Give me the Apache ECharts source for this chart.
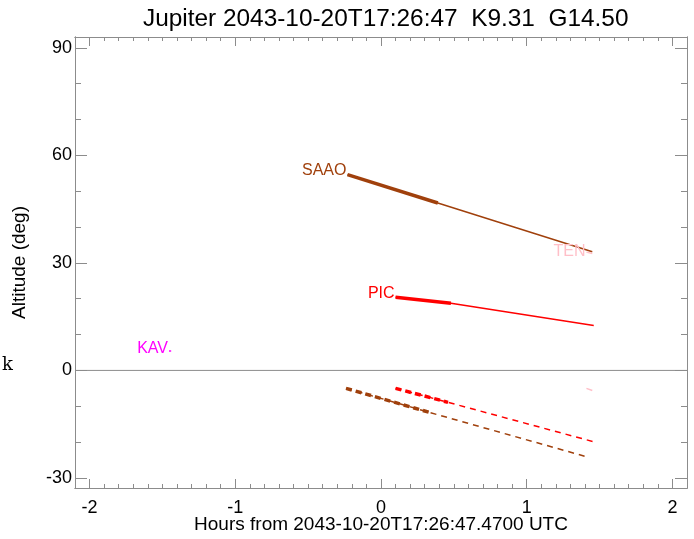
<!DOCTYPE html>
<html><head><meta charset="utf-8">
<script src="https://cdn.jsdelivr.net/npm/echarts@6/dist/echarts.min.js"></script>
<style>html,body{margin:0;padding:0;background:#fff}#c{width:694px;height:539px}</style>
</head><body><div id="c"></div>
<script>
// Tick labels
const xTicks = [-2, -1, 0, 1, 2];
const yTicks = [-30, 0, 30, 60, 90];
// Tracks (hours from reference time, altitude deg); first two points = thick part
const saaoHours = [-0.23, 0.39, 1.45];
const saaoAlt   = [54.6, 46.7, 33.1];
const picHours  = [0.10, 0.48, 1.46];
const picAlt    = [20.4, 18.75, 12.5];
const saaoLowHours = [-0.24, 0.34, 1.43];
const saaoLowAlt   = [-5.0, -11.8, -24.3];
const picLowHours  = [0.10, 0.46, 1.46];
const picLowAlt    = [-5.0, -8.9, -19.9];
const tenHours = [1.41, 1.45];
const tenAlt   = [33.0, 32.6];
const tenLowHours = [1.41, 1.45];
const tenLowAlt   = [-5.0, -5.6];
const kavHours = [-1.455, -1.44];
const kavAlt   = [5.4, 5.4];

const FONT = '"Liberation Sans", Arial, sans-serif';
const GREY = '#8c8c8c';
const C_SAAO = '#a0400c', C_PIC = '#ff0000', C_TEN = '#ffbfc8', C_KAV = '#ff00ff';

function minorList(lo, hi, step, majors) {
  const out = [];
  for (let v = lo; v <= hi + 1e-9; v += step) {
    const r = Math.round(v * 10) / 10;
    if (!majors.some(m => Math.abs(m - r) < 1e-6)) out.push(r);
  }
  return out;
}
const xMinor = minorList(-2.0, 2.0, 0.1, xTicks);
const yMinor = minorList(-30, 90, 10, yTicks);

function pts(h, a, from, to) {
  const out = [];
  for (let i = from; i <= to; i++) out.push([h[i], a[i]]);
  return out;
}
function thin(h, a, color, dashed) {
  return { type: 'line', data: pts(h, a, 0, h.length - 1), showSymbol: false, silent: true,
    lineStyle: { color: color, width: 1.5, type: dashed ? [6, 5] : 'solid' }, z: 3 };
}
function thick(h, a, color, dashed) {
  return { type: 'line', data: pts(h, a, 0, 1), showSymbol: false, silent: true,
    lineStyle: { color: color, width: 3.5, type: dashed ? [6, 4] : 'solid' }, z: 4 };
}
function lbl(text, h, a, color, dy) {
  return { type: 'scatter', symbolSize: 0, silent: true, data: [[h[0], a[0]]],
    itemStyle: { opacity: 1, color: color },
    label: { show: true, formatter: text, position: 'left', distance: 1, offset: [0, dy],
      color: color, fontSize: 16, fontFamily: FONT, opacity: 1 }, z: 5 };
}

const axisLine = { show: true, onZero: false, lineStyle: { color: GREY, width: 1 } };
function xAx(pos, major, labels) {
  return { type: 'value', position: pos, min: -2.1, max: 2.1,
    axisLine: axisLine, splitLine: { show: false },
    axisTick: { show: true, inside: true, length: major ? 9 : 4, customValues: major ? xTicks : xMinor,
      lineStyle: { color: GREY } },
    axisLabel: labels ? { show: true, customValues: xTicks, fontSize: 18, color: '#000', margin: 11, fontFamily: FONT } : { show: false },
    name: labels ? 'Hours from 2043-10-20T17:26:47.4700 UTC' : '',
    nameLocation: 'middle', nameGap: 27, nameMoveOverlap: false,
    nameTextStyle: { fontSize: 19, color: '#000', fontFamily: FONT, verticalAlign: 'top' } };
}
function yAx(pos, major, labels) {
  return { type: 'value', position: pos, min: -32.8, max: 93,
    axisLine: axisLine, splitLine: { show: false },
    axisTick: { show: true, inside: true, length: major ? 12 : 6, customValues: major ? yTicks : yMinor,
      lineStyle: { color: GREY } },
    axisLabel: labels ? { show: true, customValues: yTicks, fontSize: 18, color: '#000', margin: 3, fontFamily: FONT } : { show: false },
    name: labels ? 'Altitude (deg)' : '',
    nameLocation: 'middle', nameGap: 46, nameRotate: 90, nameMoveOverlap: false,
    nameTextStyle: { fontSize: 19, color: '#000', fontFamily: FONT } };
}

const chart = echarts.init(document.getElementById('c'), null, { renderer: 'canvas' });
chart.setOption({
  animation: false,
  backgroundColor: '#fff',
  title: { text: 'Jupiter 2043-10-20T17:26:47  K9.31  G14.50', left: 138, top: 2,
    textStyle: { fontSize: 24.4, fontWeight: 'normal', color: '#000', fontFamily: FONT } },
  grid: { left: 75, right: 7, top: 37, bottom: 51, containLabel: false, outerBoundsMode: 'none' },
  xAxis: [xAx('bottom', true, true), xAx('bottom', false, false), xAx('top', true, false), xAx('top', false, false)],
  yAxis: [yAx('left', true, true), yAx('left', false, false), yAx('right', true, false), yAx('right', false, false)],
  graphic: [{ type: 'text', left: 2, top: 356, style: { text: 'k', fontSize: 18, fontFamily: '"DejaVu Serif", serif', fill: '#000' } }],
  series: [
    { type: 'line', data: [[-2.1, 0], [2.1, 0]], showSymbol: false, silent: true, lineStyle: { color: GREY, width: 1 }, z: 2 },
    thin(saaoHours, saaoAlt, C_SAAO, false), thick(saaoHours, saaoAlt, C_SAAO, false),
    thin(picHours, picAlt, C_PIC, false), thick(picHours, picAlt, C_PIC, false),
    thin(saaoLowHours, saaoLowAlt, C_SAAO, true), thick(saaoLowHours, saaoLowAlt, C_SAAO, true),
    thin(picLowHours, picLowAlt, C_PIC, true), thick(picLowHours, picLowAlt, C_PIC, true),
    thin(tenHours, tenAlt, C_TEN, false), thin(tenLowHours, tenLowAlt, C_TEN, false),
    thin(kavHours, kavAlt, C_KAV, false),
    lbl('SAAO', saaoHours, saaoAlt, C_SAAO, -4), lbl('PIC', picHours, picAlt, C_PIC, -4),
    lbl('TEN', tenHours, tenAlt, C_TEN, -1), lbl('KAV', kavHours, kavAlt, C_KAV, -2)
  ]
});
</script></body></html>
